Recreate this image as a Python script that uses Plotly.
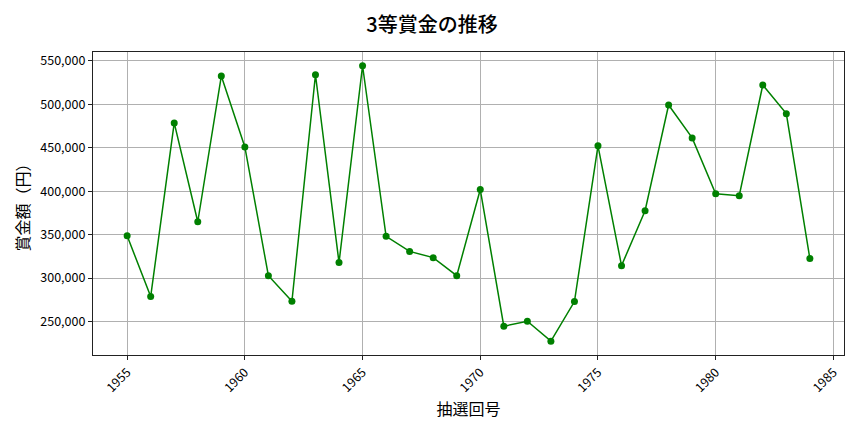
import plotly.graph_objects as go

# 抽選回号 and 3等賞金
draw_years = list(range(1955, 1985))
prize_yen = [
    348700, 278700, 478500, 364800, 532400, 450900, 302800, 273300, 533900, 317800,
    544300, 348000, 330700, 323500, 302800, 401900, 244600, 250400, 227400, 273000,
    452100, 314300, 377500, 499100, 461300, 397000, 394700, 522100, 489200, 322400,
]
x_ticks = [1955, 1960, 1965, 1970, 1975, 1980, 1985]
y_ticks = [250000, 300000, 350000, 400000, 450000, 500000, 550000]

font_family = "Noto Sans CJK JP"

fig = go.Figure()
fig.add_trace(go.Scatter(
    x=draw_years,
    y=prize_yen,
    mode="lines+markers",
    line=dict(color="green", width=1.5),
    marker=dict(color="green", size=7),
    showlegend=False,
))

axis_common = dict(
    automargin=False,
    showline=True,
    linecolor="#222222",
    linewidth=1.2,
    mirror=True,
    showgrid=True,
    gridcolor="#b0b0b0",
    gridwidth=0.8,
    ticks="outside",
    ticklen=4,
    tickcolor="#222222",
    zeroline=False,
    tickfont=dict(family=font_family, size=12.5, color="black"),
)

fig.update_layout(
    width=864,
    height=432,
    margin=dict(l=93, r=20, t=52, b=77),
    paper_bgcolor="white",
    plot_bgcolor="white",
    title=dict(
        text="3等賞金の推移",
        x=0.5,
        xanchor="center",
        y=0.942,
        yanchor="middle",
        font=dict(family=font_family, size=20, color="black", weight=500),
    ),
    xaxis=dict(
        **axis_common,
        range=[1953.55, 1985.45],
        tickvals=x_ticks,
        tickangle=-45,
        title=dict(text="抽選回号", font=dict(family=font_family, size=16, color="black"), standoff=6),
    ),
    yaxis=dict(
        **axis_common,
        range=[211500, 560100],
        tickvals=y_ticks,
        tickformat=",d",
        title=dict(text="賞金額（円）", font=dict(family=font_family, size=16, color="black"), standoff=6),
    ),
)

# the page body has a default 8px margin; drop it so the figure fills the window
fig.write_html(
    "out.html",
    config={"displayModeBar": False},
    post_script="document.body.style.margin='0';",
)
